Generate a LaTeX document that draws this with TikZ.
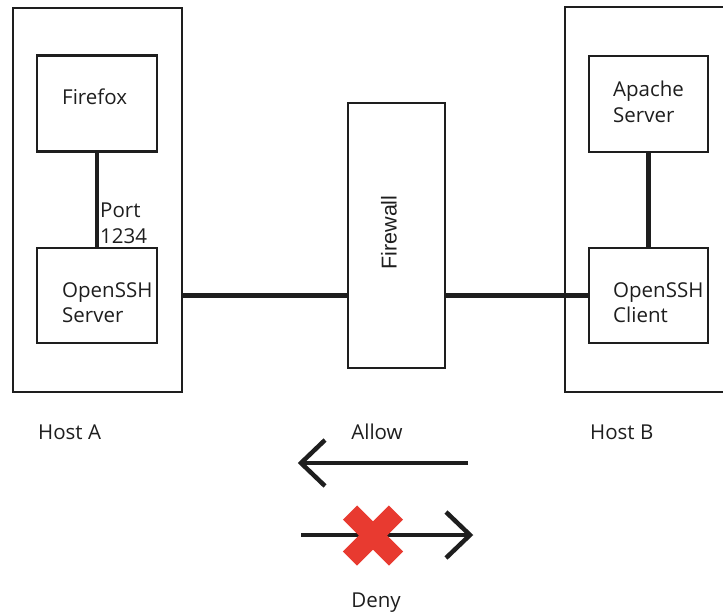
\documentclass[tikz,border=0pt]{standalone}
\usepackage{fontspec}
\usetikzlibrary{calc}
\setmainfont{Open Sans}
\newfontfamily\fwfont{Liberation Sans}
\definecolor{denyred}{RGB}{232,58,48}
\definecolor{ink}{RGB}{30,30,30}
\begin{document}
\begin{tikzpicture}[x=1pt,y=-1pt,
  outerbox/.style={draw=ink,line width=2pt,fill=none},
  innerbox/.style={draw=ink,line width=2.4pt,fill=none},
  conn/.style={draw=ink,line width=4.5pt},
  legendarrow/.style={draw=ink,line width=4.5pt,line join=miter},
  lbl/.style={anchor=base west,inner sep=0pt,font=\fontsize{20.5}{25}\selectfont,text=ink},
  clbl/.style={anchor=base,inner sep=0pt,font=\fontsize{20.5}{25}\selectfont,text=ink}]
\useasboundingbox (0,0) rectangle (723,613);
\clip (0,0) rectangle (723,613);
% host boxes
\node[outerbox,minimum width=169pt,minimum height=384pt,inner sep=0pt] (hostA) at (97,199.5) {};
\node[outerbox,minimum width=175pt,minimum height=385pt,inner sep=0pt] (hostB) at (652.5,199.5) {};
% inner boxes
\node[innerbox,minimum width=120pt,minimum height=96pt,inner sep=0pt] (firefox) at (97,103.5) {};
\node[innerbox,minimum width=120pt,minimum height=95pt,inner sep=0pt] (server) at (97,295.5) {};
\node[innerbox,minimum width=119pt,minimum height=96pt,inner sep=0pt] (apache) at (648.5,104) {};
\node[innerbox,minimum width=119pt,minimum height=95pt,inner sep=0pt] (client) at (648.5,295.5) {};
\node[innerbox,minimum width=97pt,minimum height=265pt,inner sep=0pt] (fw) at (396.5,235.5) {};
% texts
\node[lbl] (tff) at (62,104) {Firefox};
\node[lbl] (tport1) at (100,217) {Port};
\node[lbl] (tport2) at (100,243) {1234};
\node[lbl] (ts1) at (62,297) {OpenSSH};
\node[lbl] (ts2) at (62,322) {Server};
\node[lbl] (ta1) at (613,96) {Apache};
\node[lbl] (ta2) at (613,122) {Server};
\node[lbl] (tc1) at (613,297) {OpenSSH};
\node[lbl] (tc2) at (613,322) {Client};
\node[inner sep=0pt,rotate=90,font=\fwfont\fontsize{21.5}{26}\selectfont,text=ink] (tfw) at (389,232.5) {Firewall};
\node[lbl] (thA) at (38,439) {Host A};
\node[lbl] (thB) at (590,439) {Host B};
\node[clbl] (tallow) at (377,439) {Allow};
\node[clbl] (tdeny) at (376,607) {Deny};
% connectors
\draw[conn] (firefox.south) -- (server.north);
\draw[conn] (apache.south) -- (client.north);
\draw[conn] (hostA.east |- server.east) -- (fw.west |- server.east);
\draw[conn] (fw.east |- client.west) -- (client.west);
% legend
\coordinate (al) at (301,463);
\coordinate (ar) at (468,463);
\draw[legendarrow] (ar) -- (al);
\draw[legendarrow] ($(al)+(24,-23)$) -- (al) -- ($(al)+(24,23)$);
\coordinate (dl) at (301,535);
\coordinate (dr) at (470,535);
\draw[legendarrow] (dl) -- (dr);
\draw[legendarrow] ($(dr)+(-24,-23)$) -- (dr) -- ($(dr)+(-24,23)$);
\coordinate (xc) at (373,535.5);
\draw[denyred,line width=20pt] ($(xc)+(-23,-23)$) -- ($(xc)+(23,23)$);
\draw[denyred,line width=20pt] ($(xc)+(-23,23)$) -- ($(xc)+(23,-23)$);
\end{tikzpicture}
\end{document}
